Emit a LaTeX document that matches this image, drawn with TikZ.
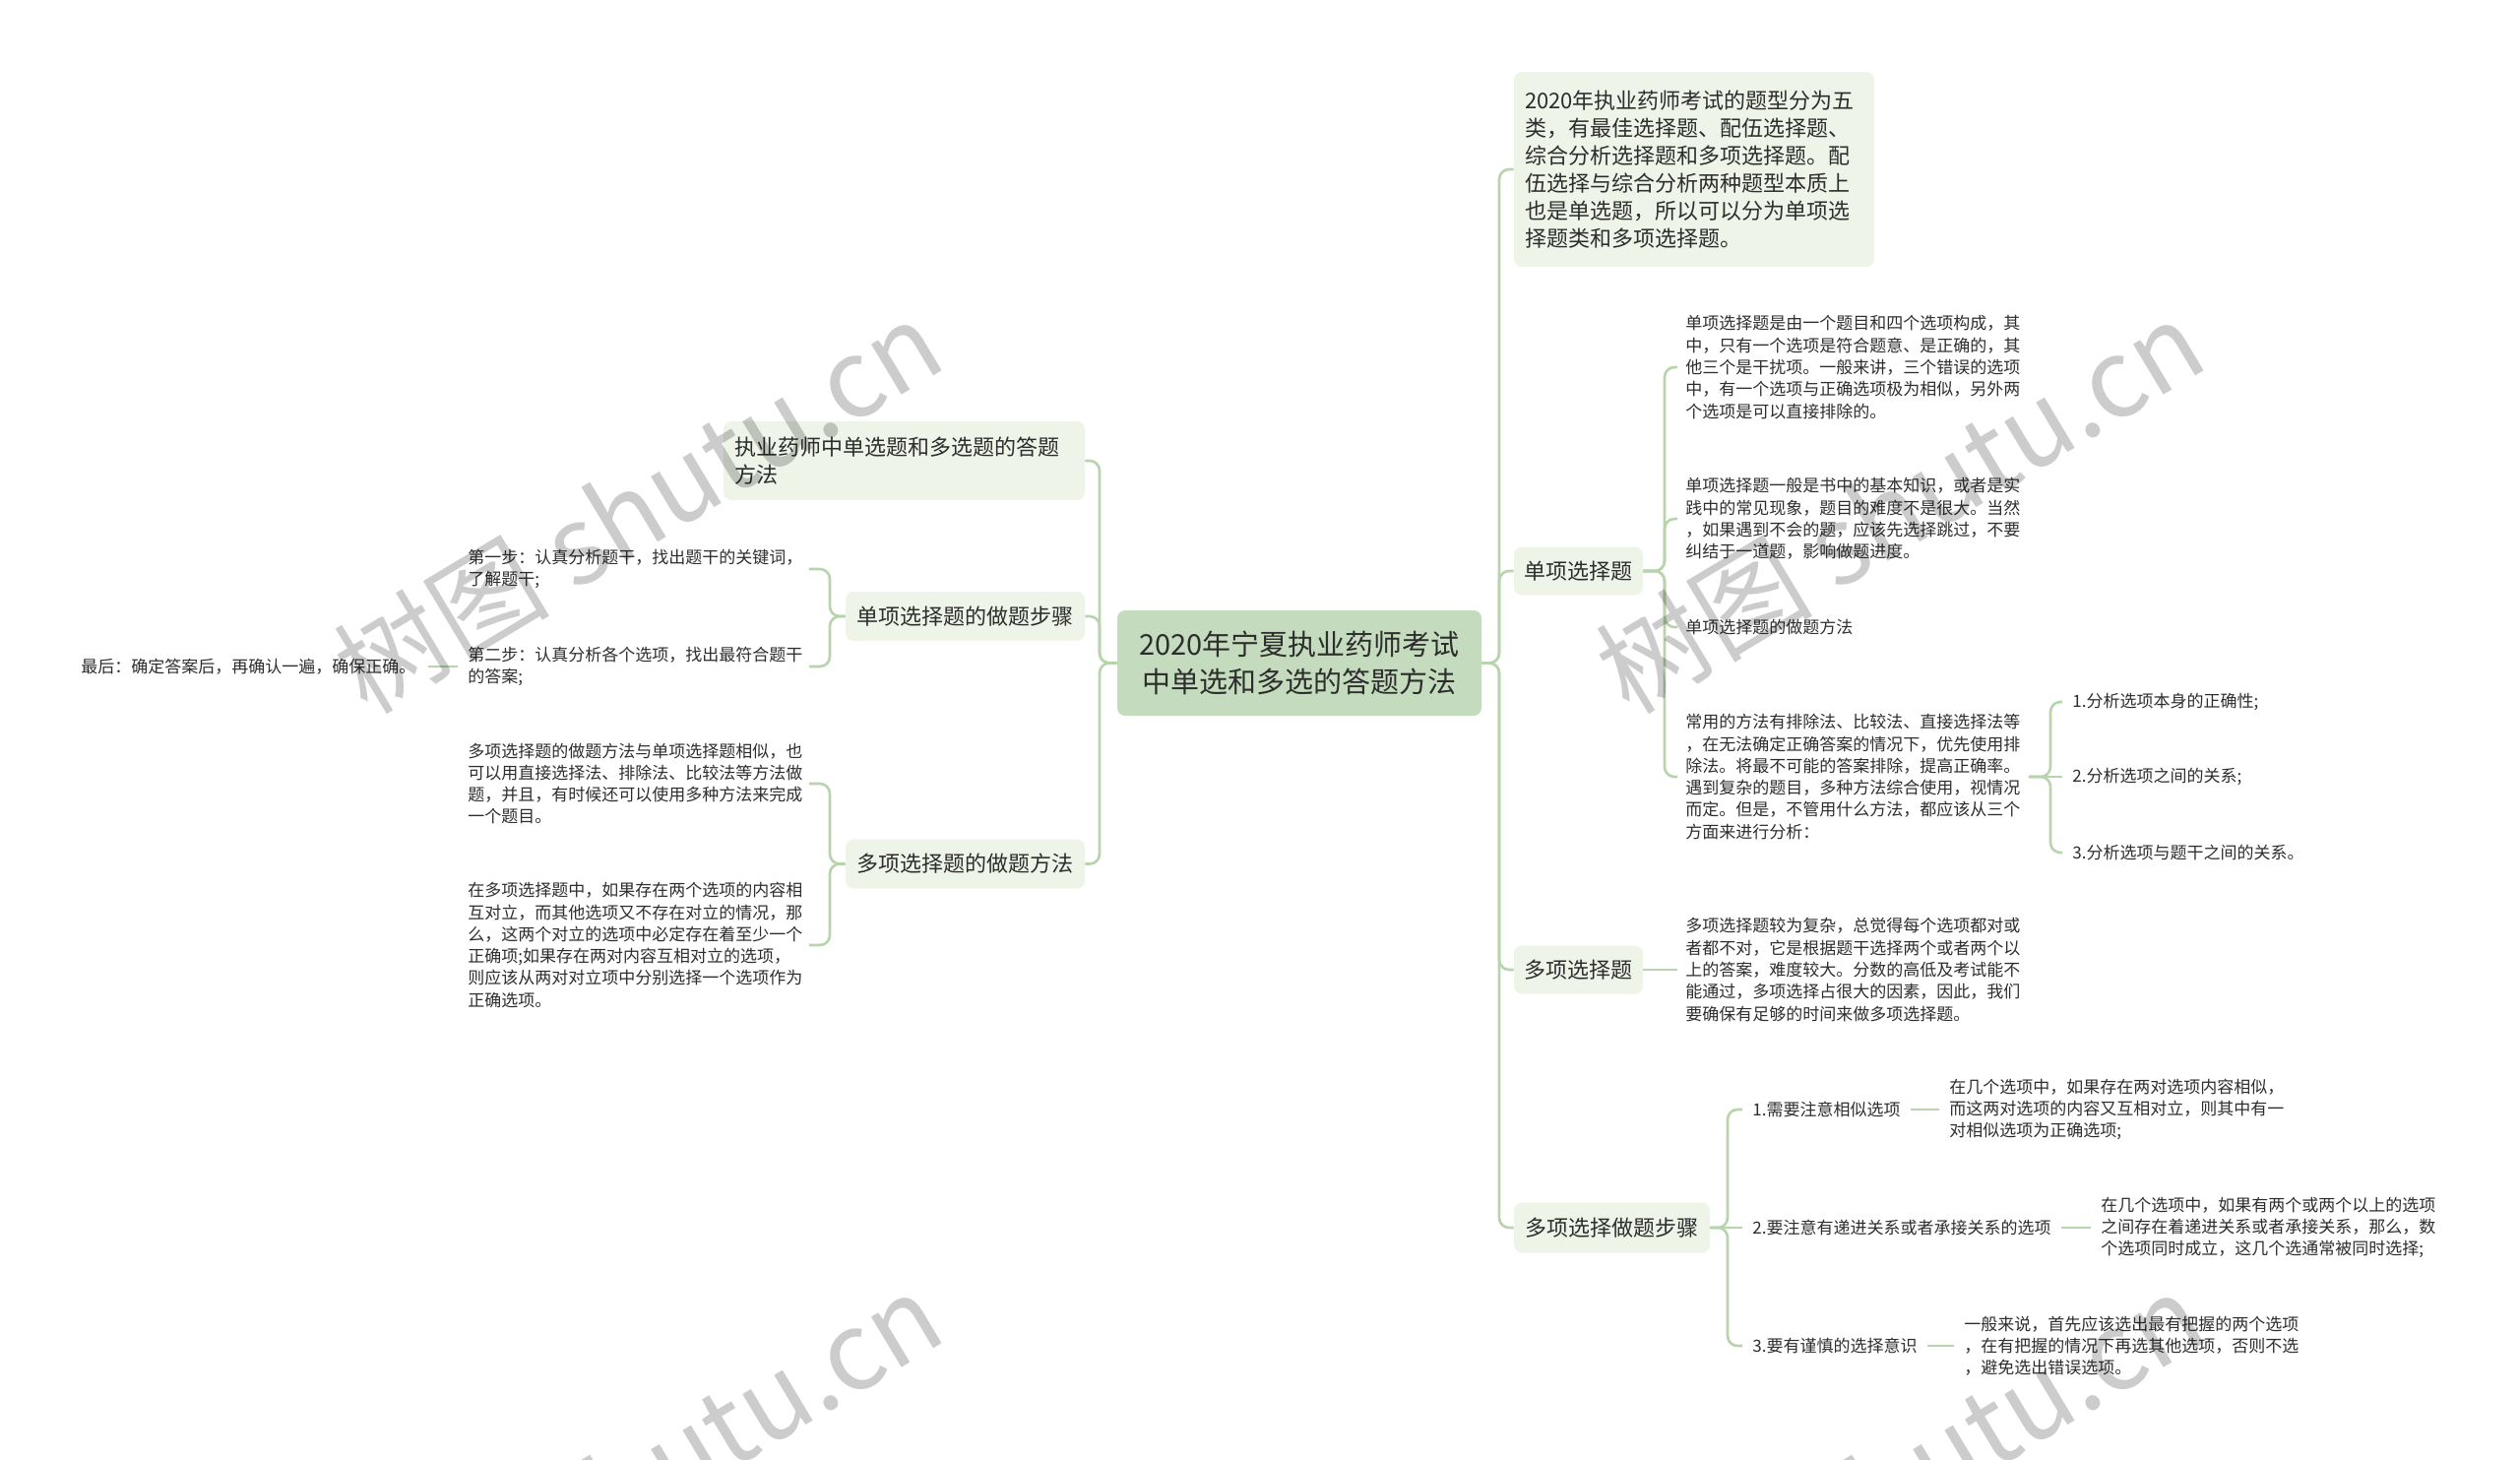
\documentclass[tikz,border=0pt]{standalone}
\usepackage{fontspec}
\setmainfont{Noto Sans CJK SC}
\usetikzlibrary{calc}
\definecolor{lineG}{RGB}{183,212,172}
\definecolor{rootG}{RGB}{196,220,189}
\definecolor{boxG}{RGB}{238,244,232}
\definecolor{txt}{RGB}{45,45,45}
\begin{document}
\begin{tikzpicture}[x=0.5pt,y=-0.5pt,
  conn/.style={draw=lineG, line width=1.3pt, rounded corners=5pt},
  rootbox/.style={fill=rootG, rounded corners=4pt, text=txt, align=center, font=\fontsize{14.5}{18.75}\selectfont, inner sep=0pt, minimum width=185pt, minimum height=53.5pt},
  boxA/.style={fill=boxG, rounded corners=4pt, text=txt, font=\fontsize{11}{14}\selectfont, inner ysep=0pt},
  leaf/.style={text=txt, font=\fontsize{8.5}{11.15}\selectfont, align=left, inner sep=0pt, anchor=west},
  wm/.style={text=black, opacity=0.2, font=\fontsize{55}{60}\selectfont, rotate=31}
]
\useasboundingbox (0,0) rectangle (2560,1483);

% root
\node[rootbox] (root) at (1320,673.5) {2020年宁夏执业药师考试\\中单选和多选的答题方法};

% right level 1
\node[boxA, text width=172pt, inner xsep=5.5pt, align=left, minimum height=99pt] (r1) at (1721,172) {2020年执业药师考试的题型分为五\\类，有最佳选择题、配伍选择题、\\综合分析选择题和多项选择题。配\\伍选择与综合分析两种题型本质上\\也是单选题，所以可以分为单项选\\择题类和多项选择题。};
\node[boxA, minimum width=65.5pt, minimum height=24.5pt] (r2) at (1603.5,580) {单项选择题};
\node[boxA, minimum width=65.5pt, minimum height=24.5pt] (r3) at (1603.5,985) {多项选择题};
\node[boxA, minimum width=99.5pt, minimum height=25.5pt] (r4) at (1637.5,1247) {多项选择做题步骤};

% left level 1
\node[boxA, text width=172pt, inner xsep=5.75pt, align=left, minimum height=40pt] (l1) at (918.5,468) {执业药师中单选题和多选题的答题\\方法};
\node[boxA, minimum width=121.5pt, minimum height=25pt] (l2) at (980.5,626) {单项选择题的做题步骤};
\node[boxA, minimum width=121.5pt, minimum height=25pt] (l3) at (980.5,877.5) {多项选择题的做题方法};

% right leaves
\node[leaf] (ra) at (1712,373) {单项选择题是由一个题目和四个选项构成，其\\中，只有一个选项是符合题意、是正确的，其\\他三个是干扰项。一般来讲，三个错误的选项\\中，有一个选项与正确选项极为相似，另外两\\个选项是可以直接排除的。};
\node[leaf] (rb) at (1712,527) {单项选择题一般是书中的基本知识，或者是实\\践中的常见现象，题目的难度不是很大。当然\\，如果遇到不会的题，应该先选择跳过，不要\\纠结于一道题，影响做题进度。};
\node[leaf] (rc) at (1712,637) {单项选择题的做题方法};
\node[leaf] (rd) at (1712,789) {常用的方法有排除法、比较法、直接选择法等\\，在无法确定正确答案的情况下，优先使用排\\除法。将最不可能的答案排除，提高正确率。\\遇到复杂的题目，多种方法综合使用，视情况\\而定。但是，不管用什么方法，都应该从三个\\方面来进行分析：};
\node[leaf] (rd1) at (2105,713) {1.分析选项本身的正确性;};
\node[leaf] (rd2) at (2105,789) {2.分析选项之间的关系;};
\node[leaf] (rd3) at (2105,866) {3.分析选项与题干之间的关系。};
\node[leaf] (rm) at (1712,985) {多项选择题较为复杂，总觉得每个选项都对或\\者都不对，它是根据题干选择两个或者两个以\\上的答案，难度较大。分数的高低及考试能不\\能通过，多项选择占很大的因素，因此，我们\\要确保有足够的时间来做多项选择题。};
\node[leaf] (s1) at (1780,1127) {1.需要注意相似选项};
\node[leaf] (s2) at (1780,1247) {2.要注意有递进关系或者承接关系的选项};
\node[leaf] (s3) at (1780,1367) {3.要有谨慎的选择意识};
\node[leaf] (s1a) at (1980,1127) {在几个选项中，如果存在两对选项内容相似，\\而这两对选项的内容又互相对立，则其中有一\\对相似选项为正确选项;};
\node[leaf] (s2a) at (2134,1247) {在几个选项中，如果有两个或两个以上的选项\\之间存在着递进关系或者承接关系，那么，数\\个选项同时成立，这几个选通常被同时选择;};
\node[leaf] (s3a) at (1995,1367) {一般来说，首先应该选出最有把握的两个选项\\，在有把握的情况下再选其他选项，否则不选\\，避免选出错误选项。};

% left leaves
\node[leaf] (la1) at (475,578) {第一步：认真分析题干，找出题干的关键词，\\了解题干;};
\node[leaf] (la2) at (475,677) {第二步：认真分析各个选项，找出最符合题干\\的答案;};
\node[leaf] (lz) at (82,677) {最后：确定答案后，再确认一遍，确保正确。};
\node[leaf] (lb1) at (475,796) {多项选择题的做题方法与单项选择题相似，也\\可以用直接选择法、排除法、比较法等方法做\\题，并且，有时候还可以使用多种方法来完成\\一个题目。};
\node[leaf] (lb2) at (475,960) {在多项选择题中，如果存在两个选项的内容相\\互对立，而其他选项又不存在对立的情况，那\\么，这两个对立的选项中必定存在着至少一个\\正确项;如果存在两对内容互相对立的选项，\\则应该从两对对立项中分别选择一个选项作为\\正确选项。};

% trunk coordinates
\coordinate (tR) at (1523,673.5);
\coordinate (tL) at (1117,673.5);
\coordinate (tR2) at (1691,580);
\coordinate (tRd) at (2083,789);
\coordinate (tR4) at (1755,1247);
\coordinate (tL2) at (843,626);
\coordinate (tL3) at (843,877.5);

% connectors
\foreach \c in {r1,r2,r3,r4} \draw[conn] (root.east) -- (root.east -| tR) |- (\c.west);
\foreach \c in {l1,l2,l3} \draw[conn] (root.west) -- (root.west -| tL) |- (\c.east);
\foreach \c in {ra,rb,rc,rd} \draw[conn, shorten >=4pt] (r2.east) -- (r2.east -| tR2) |- (\c.west);
\foreach \c in {rd1,rd3} \draw[conn, shorten <=4pt, shorten >=5pt] (rd.east) -- (rd.east -| tRd) |- (\c.west);
\draw[conn, shorten <=4pt, shorten >=5pt] (rd.east) -- (rd2.west);
\draw[conn, shorten >=4pt] (r3.east) -- (rm.west);
\foreach \c in {s1,s3} \draw[conn, shorten >=5pt] (r4.east) -- (r4.east -| tR4) |- (\c.west);
\draw[conn, shorten >=5pt] (r4.east) -- (s2.west);
\draw[conn, shorten <=5pt, shorten >=5pt] (s1.east) -- (s1a.west);
\draw[conn, shorten <=5pt, shorten >=5pt] (s2.east) -- (s2a.west);
\draw[conn, shorten <=5pt, shorten >=5pt] (s3.east) -- (s3a.west);
\foreach \c in {la1,la2} \draw[conn, shorten >=3pt] (l2.west) -- (l2.west -| tL2) |- (\c.east);
\foreach \c in {lb1,lb2} \draw[conn, shorten >=3pt] (l3.west) -- (l3.west -| tL3) |- (\c.east);
\draw[conn, shorten <=5pt, shorten >=6pt] (la2.west) -- (lz.east);

% watermarks
\begin{scope}
\clip (0,0) rectangle (2560,1483);
\node[wm] (w1) at (648,514) {树图 shutu.cn};
\node[wm] (w2) at (1930,514) {树图 shutu.cn};
\node[wm] (w3) at (648,1502) {树图 shutu.cn};
\node[wm] (w4) at (1930,1502) {树图 shutu.cn};
\end{scope}
\end{tikzpicture}
\end{document}
